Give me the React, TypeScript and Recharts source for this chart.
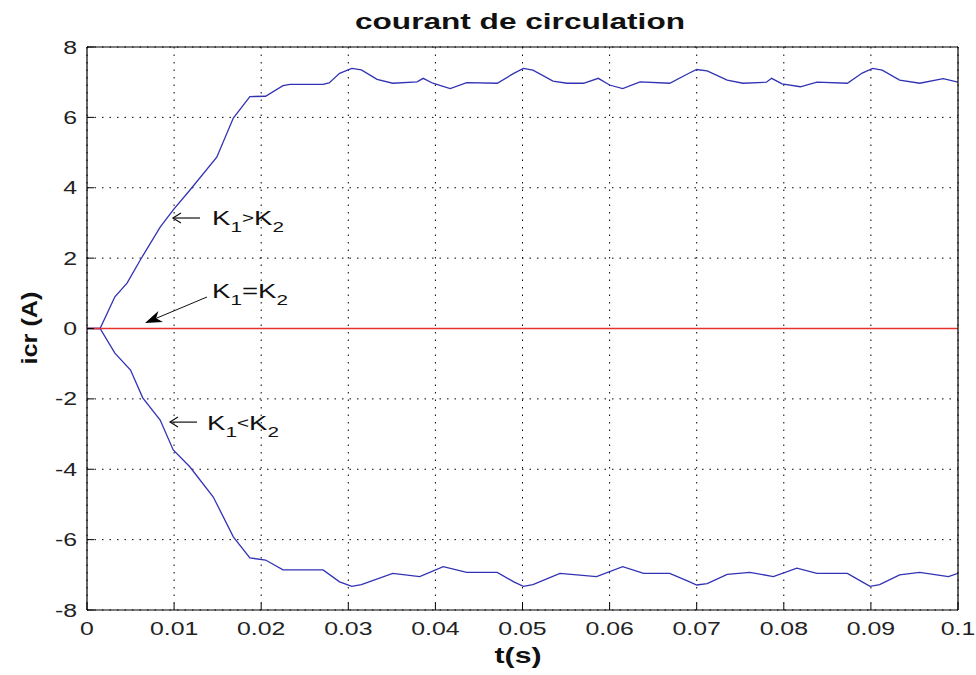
import React from 'react';
import { LineChart, Line, XAxis, YAxis, CartesianGrid, ReferenceDot } from 'recharts';

// ---- ticks ----
const xTicks = [0, 0.01, 0.02, 0.03, 0.04, 0.05, 0.06, 0.07, 0.08, 0.09, 0.1];
const xTickLabels = ['0', '0.01', '0.02', '0.03', '0.04', '0.05', '0.06', '0.07', '0.08', '0.09', '0.1'];
const yTicks = [-8, -6, -4, -2, 0, 2, 4, 6, 8];
const yTickLabels = ['-8', '-6', '-4', '-2', '0', '2', '4', '6', '8'];

// ---- series: K1 > K2 ----
const upperT = [0, 0.0015, 0.0032, 0.0046, 0.0061, 0.0084, 0.0099, 0.0118, 0.0149, 0.0168, 0.0187, 0.0205, 0.0225, 0.0233, 0.0271, 0.0278, 0.029, 0.0304, 0.0315, 0.0333, 0.0351, 0.0379, 0.0386, 0.0397, 0.0417, 0.0436, 0.0471, 0.049, 0.0501, 0.0512, 0.0535, 0.0551, 0.057, 0.0587, 0.06, 0.0615, 0.0635, 0.0669, 0.069, 0.07, 0.0712, 0.0735, 0.0753, 0.078, 0.0786, 0.0798, 0.0819, 0.0838, 0.0873, 0.089, 0.0902, 0.0913, 0.0933, 0.0956, 0.0983, 0.1];
const upperI = [0, 0, 0.9, 1.29, 1.94, 2.88, 3.37, 3.93, 4.87, 5.98, 6.59, 6.6, 6.9, 6.94, 6.94, 6.98, 7.25, 7.39, 7.35, 7.08, 6.97, 7.01, 7.11, 6.97, 6.82, 6.99, 6.97, 7.25, 7.39, 7.34, 7.03, 6.97, 6.97, 7.11, 6.92, 6.82, 7.01, 6.97, 7.24, 7.36, 7.32, 7.06, 6.97, 7.0, 7.11, 6.95, 6.87, 7.0, 6.97, 7.26, 7.39, 7.34, 7.06, 6.97, 7.1, 7.0];

// ---- series: K1 < K2 ----
const lowerT = [0, 0.0015, 0.0032, 0.005, 0.0064, 0.0084, 0.0099, 0.0118, 0.0145, 0.0168, 0.0187, 0.0205, 0.0225, 0.0271, 0.029, 0.0304, 0.0315, 0.0351, 0.0382, 0.0409, 0.0436, 0.0471, 0.049, 0.0501, 0.0512, 0.0543, 0.0585, 0.0615, 0.0639, 0.0669, 0.069, 0.07, 0.0712, 0.0735, 0.0761, 0.0788, 0.0815, 0.0838, 0.0873, 0.089, 0.0899, 0.091, 0.0933, 0.0956, 0.0989, 0.1];
const lowerI = [0, 0, -0.7, -1.18, -1.97, -2.6, -3.45, -3.93, -4.79, -5.92, -6.52, -6.58, -6.86, -6.86, -7.2, -7.33, -7.28, -6.96, -7.05, -6.77, -6.93, -6.93, -7.2, -7.33, -7.28, -6.96, -7.05, -6.77, -6.96, -6.96, -7.18, -7.29, -7.25, -6.99, -6.93, -7.05, -6.81, -6.96, -6.96, -7.2, -7.33, -7.28, -7.0, -6.93, -7.05, -6.96];

// ---- series: K1 = K2 ----
const equalT = [0, 0.1];
const equalI = [0, 0];

const upperData = upperT.map((t, i) => ({ t, v: upperI[i] }));
const lowerData = lowerT.map((t, i) => ({ t, v: lowerI[i] }));
const equalData = equalT.map((t, i) => ({ t, v: equalI[i] }));

const FONT = '"Liberation Sans", Arial, Helvetica, sans-serif';
const SX = 1.38;
const W = 976;
const H = 675;
const M = { top: 46, right: 17, bottom: 64, left: 86 };

const BottomTick = (props: any) => {
  const { x, y, index } = props;
  return (
    <g>
      <line x1={x} x2={x} y1={y} y2={y - 7} stroke="#000" strokeWidth={1} />
      <g transform={`translate(${x},${y + 25}) scale(${SX},1)`}>
        <text x={0} y={0} textAnchor="middle" fontSize={18} fontFamily={FONT} fill="#222">
          {xTickLabels[index]}
        </text>
      </g>
    </g>
  );
};

const TopTick = (props: any) => {
  const { x, y } = props;
  return <line x1={x} x2={x} y1={y} y2={y + 7} stroke="#000" strokeWidth={1} />;
};

const LeftTick = (props: any) => {
  const { x, y, index } = props;
  return (
    <g>
      <line x1={x} x2={x + 7} y1={y} y2={y} stroke="#000" strokeWidth={1} />
      <g transform={`translate(${x - 10},${y + 6.5}) scale(${SX},1)`}>
        <text x={0} y={0} textAnchor="end" fontSize={18} fontFamily={FONT} fill="#222">
          {yTickLabels[index]}
        </text>
      </g>
    </g>
  );
};

const RightTick = (props: any) => {
  const { x, y } = props;
  return <line x1={x} x2={x - 7} y1={y} y2={y} stroke="#000" strokeWidth={1} />;
};

const KText = ({ op }: { op: string }) => (
  <text x={0} y={0} fontSize={20} fontFamily={FONT} fill="#111">
    K<tspan fontSize={15} dy={7}>1</tspan>
    <tspan fontSize={op === '=' ? 20 : 15} dy={op === '=' ? -7 : -9}>{op}</tspan>
    <tspan fontSize={20} dy={op === '=' ? 0 : 2}>K</tspan>
    <tspan fontSize={15} dy={7}>2</tspan>
  </text>
);

const leftArrowLabel = (op: string, dx: number, dy: number) => (props: any) => {
  const { cx, cy } = props;
  return (
    <g>
      <line x1={cx} y1={cy} x2={cx + 27} y2={cy} stroke="#111" strokeWidth={1.2} />
      <polyline points={`${cx + 8},${cy - 5} ${cx},${cy} ${cx + 8},${cy + 5}`} fill="none" stroke="#111" strokeWidth={1.2} />
      <g transform={`translate(${cx + dx},${cy + dy}) scale(${SX},1)`}>
        <KText op={op} />
      </g>
    </g>
  );
};

const equalLabel = (props: any) => {
  const { cx, cy } = props;
  const ex = cx + 62;
  const ey = cy - 26;
  const len = Math.hypot(ex - cx, ey - cy);
  const ux = (cx - ex) / len;
  const uy = (cy - ey) / len;
  const nx = -uy;
  const ny = ux;
  const bx = cx - ux * 17;
  const by = cy - uy * 17;
  const nbx = cx - ux * 12;
  const nby = cy - uy * 12;
  return (
    <g>
      <line x1={cx - ux * 12} y1={cy - uy * 12} x2={ex} y2={ey} stroke="#111" strokeWidth={1} />
      <polygon
        points={`${cx},${cy} ${bx + nx * 6},${by + ny * 6} ${nbx},${nby} ${bx - nx * 6},${by - ny * 6}`}
        fill="#000"
      />
      <g transform={`translate(${cx + 67},${cy - 25}) scale(${SX},1)`}>
        <KText op="=" />
      </g>
    </g>
  );
};

export default function App() {
  return (
    <div style={{ position: 'absolute', left: 0, top: 0, width: W, height: H, background: '#fff' }}>
      <LineChart width={W} height={H} margin={M}>
        <CartesianGrid stroke="#000" strokeDasharray="1.5 6" strokeWidth={1} horizontalValues={yTicks} verticalValues={xTicks} />
        <XAxis
          dataKey="t"
          type="number"
          domain={[0, 0.1]}
          ticks={xTicks}
          interval={0}
          height={1}
          tickSize={0}
          tickMargin={0}
          tickLine={false}
          axisLine={{ stroke: '#000', strokeWidth: 1.2 }}
          tick={<BottomTick />}
          allowDataOverflow
        />
        <XAxis
          xAxisId="top"
          orientation="top"
          dataKey="t"
          type="number"
          domain={[0, 0.1]}
          ticks={xTicks}
          interval={0}
          height={1}
          tickSize={0}
          tickMargin={0}
          tickLine={false}
          axisLine={{ stroke: '#000', strokeWidth: 1.2 }}
          tick={<TopTick />}
        />
        <YAxis
          type="number"
          domain={[-8, 8]}
          ticks={yTicks}
          interval={0}
          width={1}
          tickSize={0}
          tickMargin={0}
          tickLine={false}
          axisLine={{ stroke: '#000', strokeWidth: 1.2 }}
          tick={<LeftTick />}
          allowDataOverflow
        />
        <YAxis
          yAxisId="right"
          orientation="right"
          type="number"
          domain={[-8, 8]}
          ticks={yTicks}
          interval={0}
          width={1}
          tickSize={0}
          tickMargin={0}
          tickLine={false}
          axisLine={{ stroke: '#000', strokeWidth: 1.2 }}
          tick={<RightTick />}
        />
        <Line data={upperData} dataKey="v" type="linear" stroke="#3232b4" strokeWidth={1.3} dot={false} isAnimationActive={false} />
        <Line data={lowerData} dataKey="v" type="linear" stroke="#3232b4" strokeWidth={1.3} dot={false} isAnimationActive={false} />
        <Line data={equalData} dataKey="v" type="linear" stroke="#e5322c" strokeWidth={1.3} dot={false} isAnimationActive={false} />
        <ReferenceDot x={0.00987} y={3.14} r={0} shape={leftArrowLabel('>', 39, 7)} ifOverflow="visible" />
        <ReferenceDot x={0.00953} y={-2.66} r={0} shape={leftArrowLabel('<', 37, 8)} ifOverflow="visible" />
        <ReferenceDot x={0.00666} y={0.156} r={0} shape={equalLabel} ifOverflow="visible" />
      </LineChart>
      <svg width={W} height={H} style={{ position: 'absolute', left: 0, top: 0, pointerEvents: 'none' }}>
        <text x={520} y={29} textAnchor="middle" fontSize={22} fontWeight="bold" fontFamily={FONT} fill="#111" textLength={330} lengthAdjust="spacingAndGlyphs">
          courant de circulation
        </text>
        <text x={518} y={663} textAnchor="middle" fontSize={22} fontWeight="bold" fontFamily={FONT} fill="#111" textLength={47} lengthAdjust="spacingAndGlyphs">
          t(s)
        </text>
        <g transform="translate(37,328) rotate(-90)">
          <text x={0} y={0} textAnchor="middle" fontSize={22} fontWeight="bold" fontFamily={FONT} fill="#111" textLength={73} lengthAdjust="spacingAndGlyphs">
            icr (A)
          </text>
        </g>
      </svg>
    </div>
  );
}
